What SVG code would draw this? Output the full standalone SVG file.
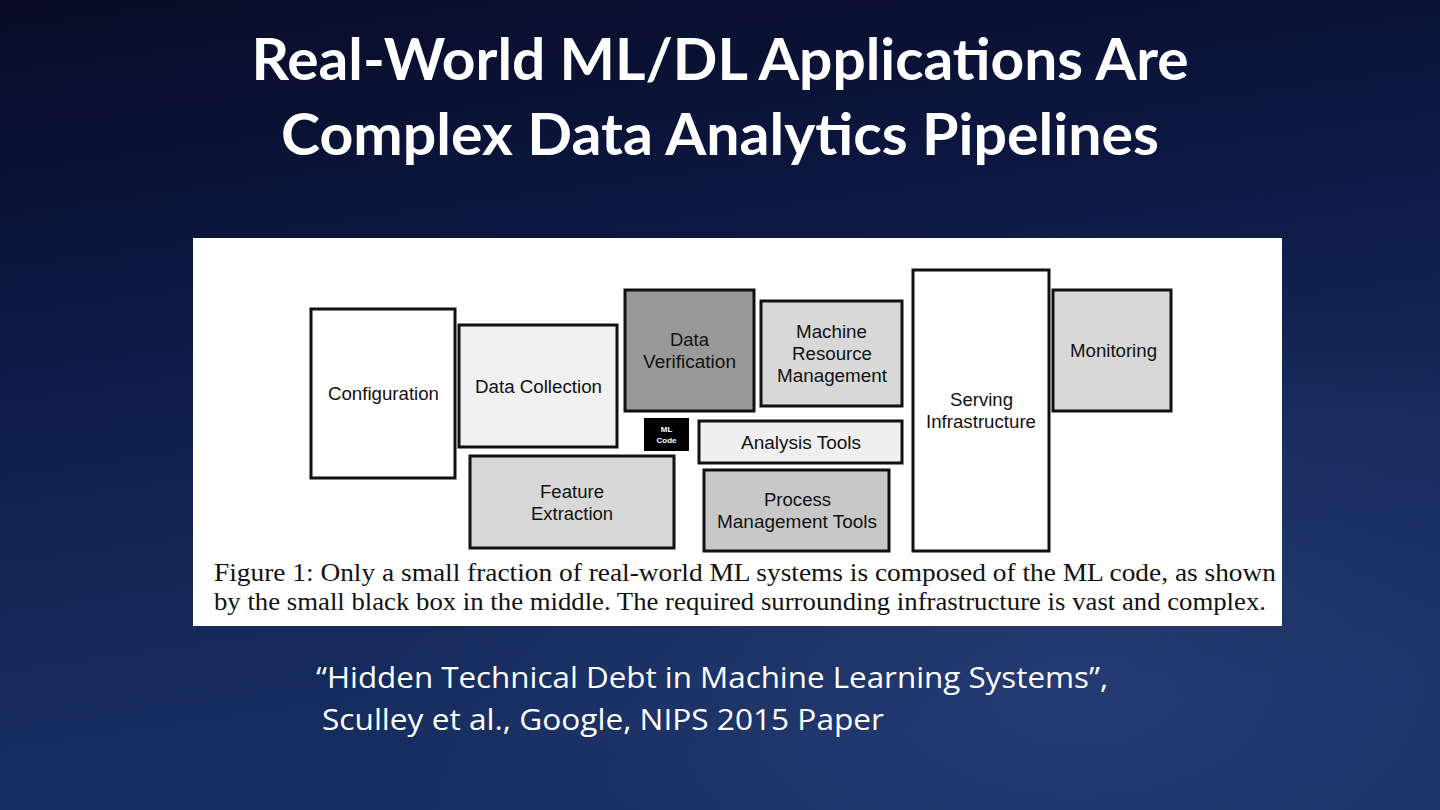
<svg xmlns="http://www.w3.org/2000/svg" width="1440" height="810" viewBox="0 0 1440 810">
<defs>
<linearGradient id="bg" x1="0" y1="0" x2="0.25" y2="1">
<stop offset="0" stop-color="#080c26"/>
<stop offset="0.35" stop-color="#0c1740"/>
<stop offset="0.7" stop-color="#142858"/>
<stop offset="1" stop-color="#182e62"/>
</linearGradient>
<radialGradient id="glow" cx="0.75" cy="0.85" r="0.5">
<stop offset="0" stop-color="#3a4f8a" stop-opacity="0.4"/>
<stop offset="1" stop-color="#3a4f8a" stop-opacity="0"/>
</radialGradient>
<style>
.box{stroke:#111;stroke-width:3}
.lbl{font-family:"Liberation Sans",Arial,sans-serif;font-size:17.5px;fill:#111;text-anchor:middle}
.title{font-family:Lato,"Open Sans",sans-serif;font-weight:bold;font-size:58px;fill:#fff;text-anchor:middle}
.cite{font-family:"Open Sans",Lato,sans-serif;font-size:29px;fill:#fff}
.cap{font-family:"Liberation Serif","Times New Roman",serif;font-size:26px;fill:#111}
</style>
</defs>
<rect width="1440" height="810" fill="url(#bg)"/>
<rect width="1440" height="810" fill="url(#glow)"/>
<g id="title">
<text class="title" x="720" y="80" textLength="937" lengthAdjust="spacingAndGlyphs">Real-World ML/DL Applications Are</text>
<text class="title" x="720" y="155" textLength="878" lengthAdjust="spacingAndGlyphs">Complex Data Analytics Pipelines</text>
</g>
<rect id="panel" x="193" y="238" width="1089" height="388" fill="#fff"/>
<g id="configuration"><rect class="box" x="311" y="309" width="144" height="169" fill="#fff"/><text class="lbl" x="383.5" y="400" textLength="111" lengthAdjust="spacingAndGlyphs">Configuration</text></g>
<g id="data-collection"><rect class="box" x="459" y="325" width="158" height="122" fill="#f0f0f0"/><text class="lbl" x="538.5" y="393" textLength="127" lengthAdjust="spacingAndGlyphs">Data Collection</text></g>
<g id="data-verification"><rect class="box" x="625" y="290" width="129" height="121" fill="#999"/><text class="lbl" x="689.5" y="346" textLength="39" lengthAdjust="spacingAndGlyphs">Data</text><text class="lbl" x="689.5" y="368" textLength="93" lengthAdjust="spacingAndGlyphs">Verification</text></g>
<g id="machine-resource-management"><rect class="box" x="761" y="301" width="141" height="105" fill="#d8d8d8"/><text class="lbl" x="831.5" y="338" textLength="71" lengthAdjust="spacingAndGlyphs">Machine</text><text class="lbl" x="832" y="360" textLength="80" lengthAdjust="spacingAndGlyphs">Resource</text><text class="lbl" x="832" y="382" textLength="110" lengthAdjust="spacingAndGlyphs">Management</text></g>
<g id="ml-code"><rect x="644" y="418" width="45" height="33" fill="#000"/><text x="666.5" y="432" font-family="Liberation Sans,Arial,sans-serif" font-weight="bold" font-size="8" fill="#fff" text-anchor="middle">ML</text><text x="666.5" y="443" font-family="Liberation Sans,Arial,sans-serif" font-weight="bold" font-size="8" fill="#fff" text-anchor="middle">Code</text></g>
<g id="analysis-tools"><rect class="box" x="699" y="421" width="203" height="42" fill="#efefef"/><text class="lbl" x="801" y="449" textLength="120" lengthAdjust="spacingAndGlyphs">Analysis Tools</text></g>
<g id="feature-extraction"><rect class="box" x="470" y="456" width="204" height="92" fill="#d8d8d8"/><text class="lbl" x="572" y="498" textLength="64" lengthAdjust="spacingAndGlyphs">Feature</text><text class="lbl" x="572" y="520" textLength="82" lengthAdjust="spacingAndGlyphs">Extraction</text></g>
<g id="process-management-tools"><rect class="box" x="704" y="470" width="185" height="81" fill="#c8c8c8"/><text class="lbl" x="797.5" y="506" textLength="67" lengthAdjust="spacingAndGlyphs">Process</text><text class="lbl" x="797" y="528" textLength="160" lengthAdjust="spacingAndGlyphs">Management Tools</text></g>
<g id="serving-infrastructure"><rect class="box" x="913" y="270" width="136" height="281" fill="#fff"/><text class="lbl" x="981.5" y="406" textLength="63" lengthAdjust="spacingAndGlyphs">Serving</text><text class="lbl" x="981" y="428" textLength="110" lengthAdjust="spacingAndGlyphs">Infrastructure</text></g>
<g id="monitoring"><rect class="box" x="1053" y="290" width="118" height="121" fill="#d8d8d8"/><text class="lbl" x="1113.5" y="357" textLength="87" lengthAdjust="spacingAndGlyphs">Monitoring</text></g>
<g id="connectors"></g>
<g id="caption">
<text class="cap" x="214" y="581" textLength="1062" lengthAdjust="spacingAndGlyphs">Figure 1: Only a small fraction of real-world ML systems is composed of the ML code, as shown</text>
<text class="cap" x="214" y="610" textLength="1052" lengthAdjust="spacingAndGlyphs">by the small black box in the middle. The required surrounding infrastructure is vast and complex.</text>
</g>
<g id="citation">
<text class="cite" x="316" y="688" textLength="792" lengthAdjust="spacingAndGlyphs">“Hidden Technical Debt in Machine Learning Systems”,</text>
<text class="cite" x="322" y="730" textLength="562" lengthAdjust="spacingAndGlyphs">Sculley et al., Google, NIPS 2015 Paper</text>
</g>
</svg>
